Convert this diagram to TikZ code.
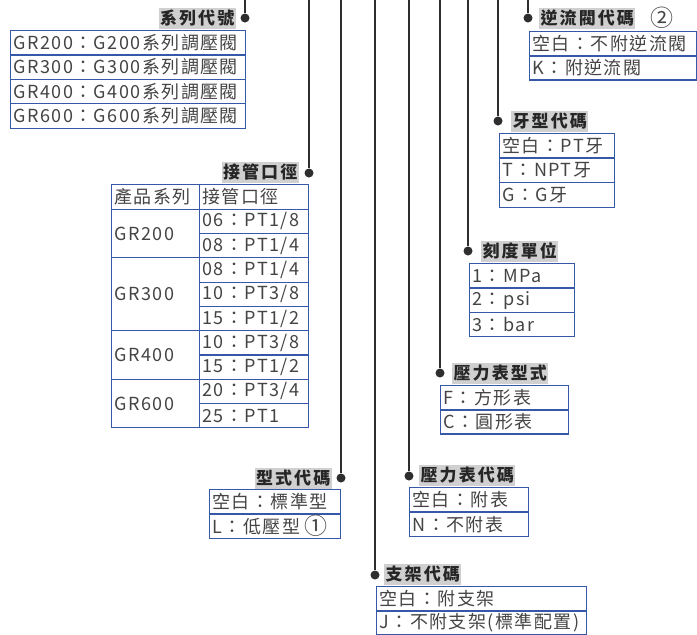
\documentclass[tikz,border=0pt]{standalone}
\usepackage{fontspec}
\setmainfont{Noto Sans CJK TC}
\usepackage{tikz}
\definecolor{boxBlue}{HTML}{3558A8}
\definecolor{tagGray}{HTML}{D0D0D0}
\definecolor{inkGray}{HTML}{444444}
\definecolor{wireGray}{HTML}{2E2E2E}
\newcommand{\bignum}[1]{{\fontsize{23}{18}\selectfont\raisebox{-1.5pt}{#1}}}

\begin{document}
\begin{tikzpicture}[x=1pt, y=-1pt,
  tag/.style={fill=tagGray, text=black!85, font=\fontsize{17}{17}\selectfont\bfseries\addfontfeature{LetterSpace=12},
              inner xsep=1.5pt, inner ysep=1pt, minimum height=21pt},
  cell/.style={draw=boxBlue, line width=1.1pt, text=inkGray, font=\fontsize{18}{18}\selectfont\addfontfeature{LetterSpace=8},
               anchor=north west, align=left, inner xsep=3pt, inner ysep=0pt, minimum height=24.4pt, text width=#1},
  wire/.style={wireGray, line width=1.1pt},
  knob/.style={circle, fill=wireGray, inner sep=0pt, minimum size=9pt}]
  \useasboundingbox (0,0) rectangle (697,635);

  % ---------------- series ----------------
  \node[tag, anchor=east] (serT) at (236,18) {系列代號};
  \node[knob] (serK) at (245,18) {};
  \coordinate (serTop) at (245,0);
  \draw[wire] (serTop) -- (serK);
  \foreach \t [count=\i from 0] in {GR200：G200系列調壓閥,GR300：G300系列調壓閥,GR400：G400系列調壓閥,GR600：G600系列調壓閥}
    \node[cell=229pt] (ser\i) at (10,{30+\i*24.4}) {\t};

  % ---------------- port size ----------------
  \node[tag, anchor=east] (prtT) at (299,172) {接管口徑};
  \node[knob] (prtK) at (309,173) {};
  \coordinate (prtTop) at (309,0);
  \draw[wire] (prtTop) -- (prtK);
  \node[cell=82pt, minimum height=24.3pt] (prtHa) at (111,184.3) {產品系列};
  \node[cell=103pt, minimum height=24.3pt] (prtHb) at (199,184.3) {接管口徑};
  \foreach \t/\y/\n in {GR200/208.6/2,GR300/257.2/3,GR400/330.1/2,GR600/378.7/2}
    \node[cell=82pt, minimum height=\n*24.3pt] (prt\t) at (111,\y) {\t};
  \foreach \t [count=\i from 1] in {{06：PT1/8},{08：PT1/4},{08：PT1/4},{10：PT3/8},{15：PT1/2},
                                    {10：PT3/8},{15：PT1/2},{20：PT3/4},{25：PT1}}
    \node[cell=103pt, minimum height=24.3pt] (prtS\i) at (199,{184.3+\i*24.3}) {\t};

  % ---------------- check valve ----------------
  \node[tag, anchor=west] (chkT) at (539,18) {逆流閥代碼};
  \node[text=inkGray, font=\fontsize{17}{17}\selectfont] (chkN) at (662,18) {\bignum{②}};
  \node[knob] (chkK) at (528,18) {};
  \coordinate (chkTop) at (528,0);
  \draw[wire] (chkTop) -- (chkK);
  \foreach \t [count=\i from 0] in {空白：不附逆流閥,K：附逆流閥}
    \node[cell=161pt] (chk\i) at (529,{31+\i*24}) {\t};

  % ---------------- thread ----------------
  \node[tag, anchor=west] (thrT) at (511,121) {牙型代碼};
  \node[knob] (thrK) at (498,121) {};
  \coordinate (thrTop) at (498,0);
  \draw[wire] (thrTop) -- (thrK);
  \foreach \t [count=\i from 0] in {空白：PT牙,T：NPT牙,G：G牙}
    \node[cell=109pt] (thr\i) at (499,{133+\i*24.6}) {\t};

  % ---------------- scale unit ----------------
  \node[tag, anchor=west] (sclT) at (481,251) {刻度單位};
  \node[knob] (sclK) at (468,251) {};
  \coordinate (sclTop) at (468,0);
  \draw[wire] (sclTop) -- (sclK);
  \foreach \t [count=\i from 0] in {1：MPa,2：psi,3：bar}
    \node[cell=99pt] (scl\i) at (469,{263+\i*24.4}) {\t};

  % ---------------- gauge shape ----------------
  \node[tag, anchor=west] (gshT) at (452,373) {壓力表型式};
  \node[knob] (gshK) at (440,373) {};
  \coordinate (gshTop) at (440,0);
  \draw[wire] (gshTop) -- (gshK);
  \foreach \t [count=\i from 0] in {F：方形表,C：圓形表}
    \node[cell=122pt] (gsh\i) at (440,{385+\i*24}) {\t};

  % ---------------- type ----------------
  \node[tag, anchor=east] (typT) at (332,478) {型式代碼};
  \node[knob] (typK) at (341,478) {};
  \coordinate (typTop) at (341,0);
  \draw[wire] (typTop) -- (typK);
  \foreach \t [count=\i from 0] in {空白：標準型,L：低壓型\hspace{4pt}\bignum{①}}
    \node[cell=125pt] (typ\i) at (209,{489+\i*24.5}) {\t};

  % ---------------- gauge ----------------
  \node[tag, anchor=west] (gauT) at (419,475) {壓力表代碼};
  \node[knob] (gauK) at (409,476) {};
  \coordinate (gauTop) at (409,0);
  \draw[wire] (gauTop) -- (gauK);
  \foreach \t [count=\i from 0] in {空白：附表,N：不附表}
    \node[cell=113pt] (gau\i) at (409,{487+\i*24.5}) {\t};

  % ---------------- bracket ----------------
  \node[tag, anchor=west] (brkT) at (384,574) {支架代碼};
  \node[knob] (brkK) at (375,575) {};
  \coordinate (brkTop) at (375,0);
  \draw[wire] (brkTop) -- (brkK);
  \foreach \t [count=\i from 0] in {空白：附支架,J：不附支架(標準配置)}
    \node[cell=204pt] (brk\i) at (376,{586+\i*24}) {\t};
\end{tikzpicture}
\end{document}
